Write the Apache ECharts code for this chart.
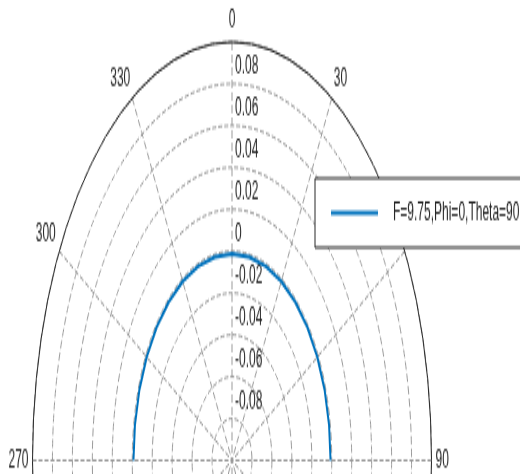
<!DOCTYPE html>
<html>
<head>
<meta charset="utf-8">
<script src="https://cdn.jsdelivr.net/npm/echarts@6/dist/echarts.min.js"></script>
<style>
  html, body { margin: 0; padding: 0; background: #fff; overflow: hidden; }
  #wrap { width: 520px; height: 474px; overflow: hidden; }
  /* the polar plot is drawn in a short box and stretched vertically */
  #chart { width: 520px; height: 226px; transform: scaleY(2.0973); transform-origin: 0 0; }
</style>
</head>
<body>
<div id="wrap"><div id="chart"></div></div>
<script>
// pattern cut: frequency 9.75, phi 0, swept over theta (degrees)
const seriesName = 'F=9.75,Phi=0,Theta=90';
const thetaDeg = [270, 280, 290, 300, 310, 320, 330, 340, 350, 0, 10, 20, 30, 40, 50, 60, 70, 80, 90];
const gain = [-0.0012, -0.0012, -0.0012, -0.0012, -0.0012, -0.0012, -0.0012, -0.0012, -0.0012, -0.0012,
              -0.0012, -0.0012, -0.0012, -0.0012, -0.0012, -0.0012, -0.0012, -0.0012, -0.0012];

// axis ranges and tick steps
const radiusRange = [-0.1, 0.1];
const radiusStep = 0.02;
const angleRange = [0, 360];
const angleStep = 30;

const ink = '#262626';
const lineBlue = '#0072BD';
const gridColor = '#999999';
const fontFamily = '"Liberation Sans", Arial, Helvetica, sans-serif';

const chart = echarts.init(document.getElementById('chart'), null, { renderer: 'canvas' });

chart.setOption({
  animation: false,
  backgroundColor: '#ffffff',
  polar: { center: [232, 219.5], radius: 199.5 },
  angleAxis: {
    type: 'value',
    min: angleRange[0],
    max: angleRange[1],
    interval: angleStep,
    startAngle: 90,
    clockwise: true,
    axisLine: { show: true, lineStyle: { color: ink, width: 1 } },
    axisTick: { show: false },
    axisLabel: {
      color: ink, fontSize: 12, fontFamily: fontFamily,
      margin: 4, align: 'center', verticalAlign: 'middle',
      formatter: v => String(v)
    },
    splitLine: { show: true, lineStyle: { color: gridColor, width: 1, type: [4, 2] } }
  },
  radiusAxis: {
    type: 'value',
    min: radiusRange[0],
    max: radiusRange[1],
    interval: radiusStep,
    axisLine: { show: false },
    axisTick: { show: false },
    axisLabel: {
      color: ink, fontSize: 12, fontFamily: fontFamily,
      margin: -3, align: 'left', verticalAlign: 'bottom', padding: [0, 0, 2, 0],
      showMinLabel: false, showMaxLabel: false
    },
    splitLine: { show: true, lineStyle: { color: gridColor, width: 1, type: [4, 2] } }
  },
  legend: {
    left: 315,
    top: 85,
    padding: [10.5, 40, 10.5, 16],
    itemWidth: 47,
    itemHeight: 2,
    icon: 'rect',
    backgroundColor: '#ffffff',
    borderColor: ink,
    borderWidth: 1,
    borderRadius: 0,
    textStyle: { color: ink, fontSize: 12, fontFamily: fontFamily, padding: [0, 0, 0, 10] },
    data: [seriesName]
  },
  series: [{
    name: seriesName,
    type: 'line',
    coordinateSystem: 'polar',
    symbol: 'none',
    lineStyle: { color: lineBlue, width: 2 },
    itemStyle: { color: lineBlue },
    data: thetaDeg.map((t, i) => [gain[i], t])
  }]
});
</script>
</body>
</html>
